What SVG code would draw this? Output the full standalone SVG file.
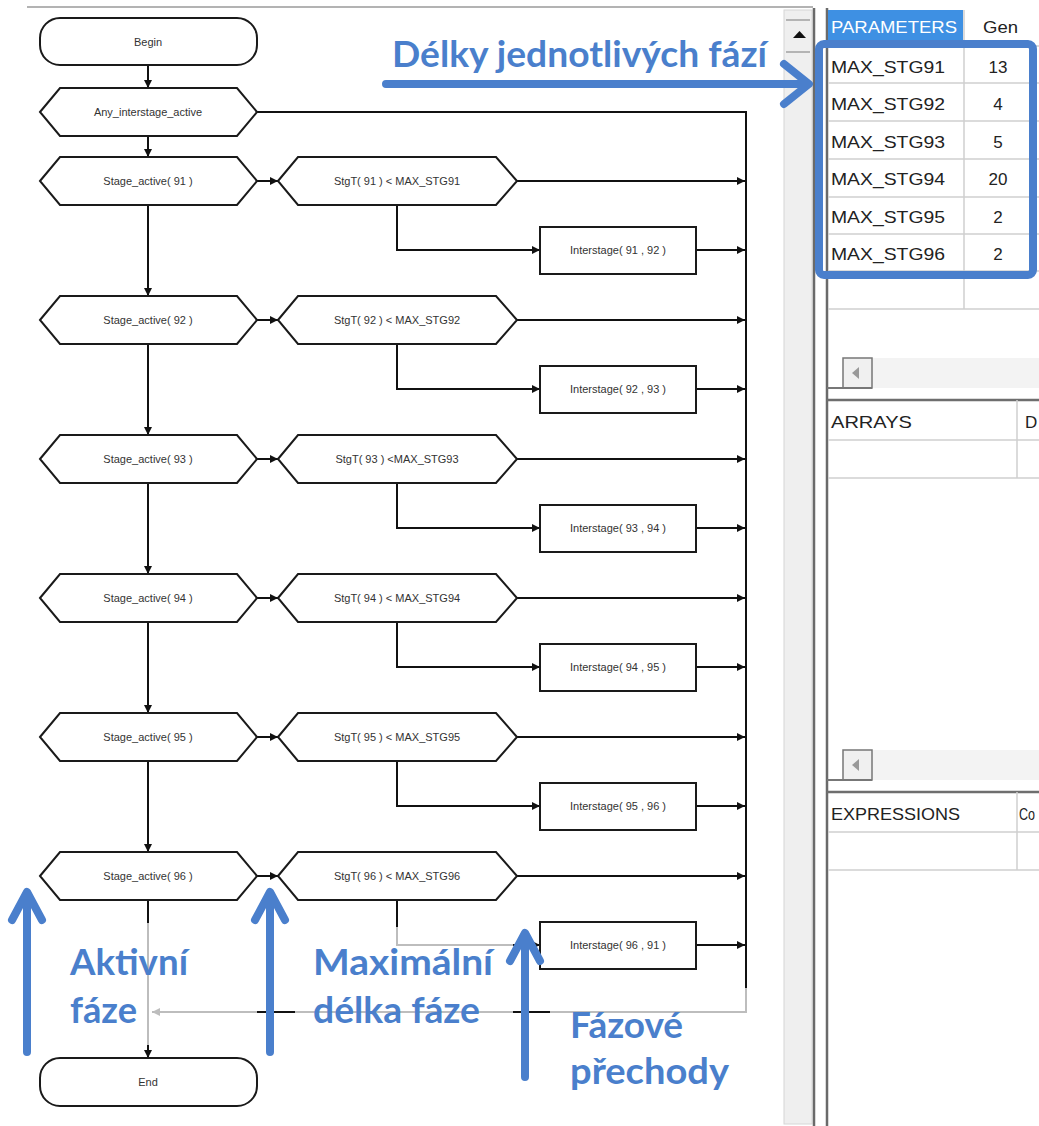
<svg xmlns="http://www.w3.org/2000/svg" width="1039" height="1126" viewBox="0 0 1039 1126">
  <style>
    .node { fill: #ffffff; stroke: #1a1a1a; stroke-width: 2; }
    .lbl { font-family: "Liberation Sans", Arial, sans-serif; font-size: 11px; fill: #333333; text-anchor: middle; }
    .wire { fill: none; stroke: #111111; stroke-width: 2; }
    .wire-g { fill: none; stroke: #bdbdbd; stroke-width: 2; }
    .note { font-family: Lato, "Open Sans", sans-serif; font-weight: bold; fill: #4a7fcc; }
    .blue { fill: none; stroke: #4a7fcc; stroke-width: 8; stroke-linecap: round; stroke-linejoin: round; }
    .cell { font-family: "Liberation Sans", Arial, sans-serif; font-size: 17px; fill: #222222; }
    .grid { stroke: #cfcfcf; stroke-width: 1.5; }
  </style>
  <defs>
    <marker id="ah" viewBox="0 0 10 10" refX="10" refY="5" markerWidth="9" markerHeight="8" markerUnits="userSpaceOnUse" orient="auto">
      <path d="M0,0 L10,5 L0,10 z" fill="#111111"/>
    </marker>
    <marker id="ahg" viewBox="0 0 10 10" refX="10" refY="5" markerWidth="9" markerHeight="8" markerUnits="userSpaceOnUse" orient="auto">
      <path d="M0,0 L10,5 L0,10 z" fill="#bdbdbd"/>
    </marker>
  </defs>

  <rect width="1039" height="1126" fill="#ffffff"/>

  <!-- editor frame: top rule and vertical scrollbar -->
  <g id="editor-frame">
    <line x1="27" y1="7" x2="813" y2="7" stroke="#9a9a9a" stroke-width="1.5"/>
    <rect x="784" y="10" width="28" height="1114" fill="#efefef" stroke="#d6d6d6" stroke-width="1"/>
    <line x1="786" y1="20" x2="810" y2="20" stroke="#a0a0a0" stroke-width="1.5"/>
    <line x1="786" y1="52" x2="810" y2="52" stroke="#a0a0a0" stroke-width="1.5"/>
    <polygon points="793,38 806,38 799.5,31" fill="#111111"/>
    <line x1="814" y1="8" x2="814" y2="1126" stroke="#6a6a6a" stroke-width="2.5"/>
    <line x1="827" y1="8" x2="827" y2="1126" stroke="#6a6a6a" stroke-width="2.5"/>
  </g>

  <!-- connectors -->
  <g id="connectors">
    <path class="wire" d="M148 65 V88" marker-end="url(#ah)"/>
    <path class="wire" d="M148 136 V157" marker-end="url(#ah)"/>
    <path class="wire" d="M257 112 H746 V988"/>

    <!-- stage chain -->
    <path class="wire" d="M148 205 V296" marker-end="url(#ah)"/>
    <path class="wire" d="M148 344 V435" marker-end="url(#ah)"/>
    <path class="wire" d="M148 483 V574" marker-end="url(#ah)"/>
    <path class="wire" d="M148 622 V713" marker-end="url(#ah)"/>
    <path class="wire" d="M148 761 V852" marker-end="url(#ah)"/>

    <!-- stage -> max time test -->
    <path class="wire" d="M257 181 H278" marker-end="url(#ah)"/>
    <path class="wire" d="M257 320 H278" marker-end="url(#ah)"/>
    <path class="wire" d="M257 459 H278" marker-end="url(#ah)"/>
    <path class="wire" d="M257 598 H278" marker-end="url(#ah)"/>
    <path class="wire" d="M257 737 H278" marker-end="url(#ah)"/>
    <path class="wire" d="M257 876 H278" marker-end="url(#ah)"/>

    <!-- max time test -> exit bus -->
    <path class="wire" d="M517 181 H745" marker-end="url(#ah)"/>
    <path class="wire" d="M517 320 H745" marker-end="url(#ah)"/>
    <path class="wire" d="M517 459 H745" marker-end="url(#ah)"/>
    <path class="wire" d="M517 598 H745" marker-end="url(#ah)"/>
    <path class="wire" d="M517 737 H745" marker-end="url(#ah)"/>
    <path class="wire" d="M517 876 H745" marker-end="url(#ah)"/>

    <!-- max time test -> interstage -->
    <path class="wire" d="M397 205 V250 H540" marker-end="url(#ah)"/>
    <path class="wire" d="M397 344 V389 H540" marker-end="url(#ah)"/>
    <path class="wire" d="M397 483 V528 H540" marker-end="url(#ah)"/>
    <path class="wire" d="M397 622 V667 H540" marker-end="url(#ah)"/>
    <path class="wire" d="M397 761 V806 H540" marker-end="url(#ah)"/>
    <path class="wire" d="M397 900 V927"/>
    <path class="wire-g" d="M397 927 V945 H513"/>
    <path class="wire" d="M513 945 H540" marker-end="url(#ah)"/>

    <!-- interstage -> exit bus -->
    <path class="wire" d="M696 250 H745" marker-end="url(#ah)"/>
    <path class="wire" d="M696 389 H745" marker-end="url(#ah)"/>
    <path class="wire" d="M696 528 H745" marker-end="url(#ah)"/>
    <path class="wire" d="M696 667 H745" marker-end="url(#ah)"/>
    <path class="wire" d="M696 806 H745" marker-end="url(#ah)"/>
    <path class="wire" d="M696 945 H745" marker-end="url(#ah)"/>

    <!-- exit bus return -->
    <path class="wire-g" d="M746 988 V1012 H152" marker-end="url(#ahg)"/>
    <path class="wire" d="M257 1012 H295"/>
    <path class="wire" d="M513 1012 H550"/>

    <!-- last stage -> End -->
    <path class="wire" d="M148 900 V923"/>
    <path class="wire-g" d="M148 923 V1045"/>
    <path class="wire" d="M148 1045 V1058" marker-end="url(#ah)"/>
  </g>

  <!-- nodes -->
  <g id="begin">
    <rect class="node" x="40" y="18" width="217" height="47" rx="20" ry="20"/>
    <text class="lbl" x="148" y="46">Begin</text>
  </g>
  <g id="any-interstage">
    <polygon class="node" points="40,112 60,88 237,88 257,112 237,136 60,136"/>
    <text class="lbl" x="148" y="116">Any_interstage_active</text>
  </g>

  <g id="stage-91">
    <polygon class="node" points="40,181 60,157 237,157 257,181 237,205 60,205"/>
    <text class="lbl" x="148" y="185">Stage_active( 91 )</text>
  </g>
  <g id="test-91">
    <polygon class="node" points="278,181 298,157 496,157 517,181 496,205 298,205"/>
    <text class="lbl" x="397" y="185">StgT( 91 ) &lt; MAX_STG91</text>
  </g>
  <g id="inter-91-92">
    <rect class="node" x="540" y="227" width="156" height="47"/>
    <text class="lbl" x="618" y="254">Interstage( 91 , 92 )</text>
  </g>

  <g id="stage-92">
    <polygon class="node" points="40,320 60,296 237,296 257,320 237,344 60,344"/>
    <text class="lbl" x="148" y="324">Stage_active( 92 )</text>
  </g>
  <g id="test-92">
    <polygon class="node" points="278,320 298,296 496,296 517,320 496,344 298,344"/>
    <text class="lbl" x="397" y="324">StgT( 92 ) &lt; MAX_STG92</text>
  </g>
  <g id="inter-92-93">
    <rect class="node" x="540" y="366" width="156" height="47"/>
    <text class="lbl" x="618" y="393">Interstage( 92 , 93 )</text>
  </g>

  <g id="stage-93">
    <polygon class="node" points="40,459 60,435 237,435 257,459 237,483 60,483"/>
    <text class="lbl" x="148" y="463">Stage_active( 93 )</text>
  </g>
  <g id="test-93">
    <polygon class="node" points="278,459 298,435 496,435 517,459 496,483 298,483"/>
    <text class="lbl" x="397" y="463">StgT( 93 ) &lt;MAX_STG93</text>
  </g>
  <g id="inter-93-94">
    <rect class="node" x="540" y="505" width="156" height="47"/>
    <text class="lbl" x="618" y="532">Interstage( 93 , 94 )</text>
  </g>

  <g id="stage-94">
    <polygon class="node" points="40,598 60,574 237,574 257,598 237,622 60,622"/>
    <text class="lbl" x="148" y="602">Stage_active( 94 )</text>
  </g>
  <g id="test-94">
    <polygon class="node" points="278,598 298,574 496,574 517,598 496,622 298,622"/>
    <text class="lbl" x="397" y="602">StgT( 94 ) &lt; MAX_STG94</text>
  </g>
  <g id="inter-94-95">
    <rect class="node" x="540" y="644" width="156" height="47"/>
    <text class="lbl" x="618" y="671">Interstage( 94 , 95 )</text>
  </g>

  <g id="stage-95">
    <polygon class="node" points="40,737 60,713 237,713 257,737 237,761 60,761"/>
    <text class="lbl" x="148" y="741">Stage_active( 95 )</text>
  </g>
  <g id="test-95">
    <polygon class="node" points="278,737 298,713 496,713 517,737 496,761 298,761"/>
    <text class="lbl" x="397" y="741">StgT( 95 ) &lt; MAX_STG95</text>
  </g>
  <g id="inter-95-96">
    <rect class="node" x="540" y="783" width="156" height="47"/>
    <text class="lbl" x="618" y="810">Interstage( 95 , 96 )</text>
  </g>

  <g id="stage-96">
    <polygon class="node" points="40,876 60,852 237,852 257,876 237,900 60,900"/>
    <text class="lbl" x="148" y="880">Stage_active( 96 )</text>
  </g>
  <g id="test-96">
    <polygon class="node" points="278,876 298,852 496,852 517,876 496,900 298,900"/>
    <text class="lbl" x="397" y="880">StgT( 96 ) &lt; MAX_STG96</text>
  </g>
  <g id="inter-96-91">
    <rect class="node" x="540" y="922" width="156" height="47"/>
    <text class="lbl" x="618" y="949">Interstage( 96 , 91 )</text>
  </g>

  <g id="end">
    <rect class="node" x="40" y="1058" width="217" height="48" rx="20" ry="20"/>
    <text class="lbl" x="148" y="1086">End</text>
  </g>

  <!-- parameter table -->
  <g id="parameters">
    <rect x="828" y="10" width="135" height="35" fill="#3e90e3"/>
    <text class="cell" x="831" y="33" style="fill:#ffffff" textLength="126" lengthAdjust="spacingAndGlyphs">PARAMETERS</text>
    <text class="cell" x="983" y="33" textLength="35" lengthAdjust="spacingAndGlyphs">Gen</text>
    <line class="grid" x1="964" y1="10" x2="964" y2="309"/>
    <line class="grid" x1="828" y1="46" x2="1039" y2="46"/>
    <line class="grid" x1="828" y1="83" x2="1039" y2="83"/>
    <line class="grid" x1="828" y1="121" x2="1039" y2="121"/>
    <line class="grid" x1="828" y1="159" x2="1039" y2="159"/>
    <line class="grid" x1="828" y1="197" x2="1039" y2="197"/>
    <line class="grid" x1="828" y1="234" x2="1039" y2="234"/>
    <line class="grid" x1="828" y1="271" x2="1039" y2="271"/>
    <line class="grid" x1="828" y1="309" x2="1039" y2="309"/>
    <text class="cell" x="831" y="73" textLength="114" lengthAdjust="spacingAndGlyphs">MAX_STG91</text>
    <text class="cell" x="831" y="110" textLength="114" lengthAdjust="spacingAndGlyphs">MAX_STG92</text>
    <text class="cell" x="831" y="148" textLength="114" lengthAdjust="spacingAndGlyphs">MAX_STG93</text>
    <text class="cell" x="831" y="185" textLength="114" lengthAdjust="spacingAndGlyphs">MAX_STG94</text>
    <text class="cell" x="831" y="223" textLength="114" lengthAdjust="spacingAndGlyphs">MAX_STG95</text>
    <text class="cell" x="831" y="260" textLength="114" lengthAdjust="spacingAndGlyphs">MAX_STG96</text>
    <g text-anchor="middle">
      <text class="cell" x="998" y="73">13</text>
      <text class="cell" x="998" y="110">4</text>
      <text class="cell" x="998" y="148">5</text>
      <text class="cell" x="998" y="185">20</text>
      <text class="cell" x="998" y="223">2</text>
      <text class="cell" x="998" y="260">2</text>
    </g>
  </g>

  <!-- horizontal scrollbars -->
  <g id="hscroll-1">
    <rect x="872" y="358" width="167" height="30" fill="#f3f3f3"/>
    <rect x="843" y="358" width="29" height="30" fill="#f0f0f0" stroke="#777777" stroke-width="1.5"/>
    <line x1="827" y1="388" x2="872" y2="388" stroke="#777777" stroke-width="2"/>
    <polygon points="859,367 859,379 852,373" fill="#999999"/>
  </g>
  <g id="hscroll-2">
    <rect x="872" y="750" width="167" height="30" fill="#f3f3f3"/>
    <rect x="843" y="750" width="29" height="30" fill="#f0f0f0" stroke="#777777" stroke-width="1.5"/>
    <line x1="827" y1="780" x2="872" y2="780" stroke="#777777" stroke-width="2"/>
    <polygon points="859,759 859,771 852,765" fill="#999999"/>
  </g>

  <!-- arrays table -->
  <g id="arrays">
    <line x1="827" y1="400" x2="1039" y2="400" stroke="#6e6e6e" stroke-width="2.5"/>
    <line class="grid" x1="1017" y1="400" x2="1017" y2="478"/>
    <line class="grid" x1="828" y1="440" x2="1039" y2="440"/>
    <line class="grid" x1="828" y1="478" x2="1039" y2="478"/>
    <text class="cell" x="831" y="428" textLength="81" lengthAdjust="spacingAndGlyphs">ARRAYS</text>
    <text class="cell" x="1025" y="428">D</text>
  </g>

  <!-- expressions table -->
  <g id="expressions">
    <line x1="827" y1="792" x2="1039" y2="792" stroke="#6e6e6e" stroke-width="2.5"/>
    <line class="grid" x1="1017" y1="792" x2="1017" y2="870"/>
    <line class="grid" x1="828" y1="832" x2="1039" y2="832"/>
    <line class="grid" x1="828" y1="870" x2="1039" y2="870"/>
    <text class="cell" x="831" y="820" textLength="129" lengthAdjust="spacingAndGlyphs">EXPRESSIONS</text>
    <text class="cell" x="1019" y="820" font-size="16" style="font-size:16px" textLength="16" lengthAdjust="spacingAndGlyphs">Co</text>
  </g>

  <!-- blue annotations -->
  <g id="annotations">
    <rect x="819" y="44" width="214" height="231" rx="5" ry="5" fill="none" stroke="#4a7fcc" stroke-width="8"/>
    <path class="blue" d="M386 84 H808 M784 64 L809 84 L784 104"/>
    <text class="note" x="392" y="67" font-size="37" textLength="375" lengthAdjust="spacingAndGlyphs">Délky jednotlivých fází</text>

    <path class="blue" d="M27 1052 V893 M12 920 L27 892 L42 920"/>
    <path class="blue" d="M270 1052 V893 M255 920 L270 892 L285 920"/>
    <path class="blue" d="M525 1077 V934 M510 961 L525 933 L540 961"/>

    <text class="note" x="70" y="975" font-size="37" textLength="118" lengthAdjust="spacingAndGlyphs">Aktivní</text>
    <text class="note" x="70" y="1023" font-size="37" textLength="67" lengthAdjust="spacingAndGlyphs">fáze</text>
    <text class="note" x="313" y="975" font-size="37" textLength="180" lengthAdjust="spacingAndGlyphs">Maximální</text>
    <text class="note" x="313" y="1023" font-size="37" textLength="167" lengthAdjust="spacingAndGlyphs">délka fáze</text>
    <text class="note" x="570" y="1038" font-size="37" textLength="113" lengthAdjust="spacingAndGlyphs">Fázové</text>
    <text class="note" x="570" y="1084" font-size="37" textLength="159" lengthAdjust="spacingAndGlyphs">přechody</text>
  </g>
</svg>
